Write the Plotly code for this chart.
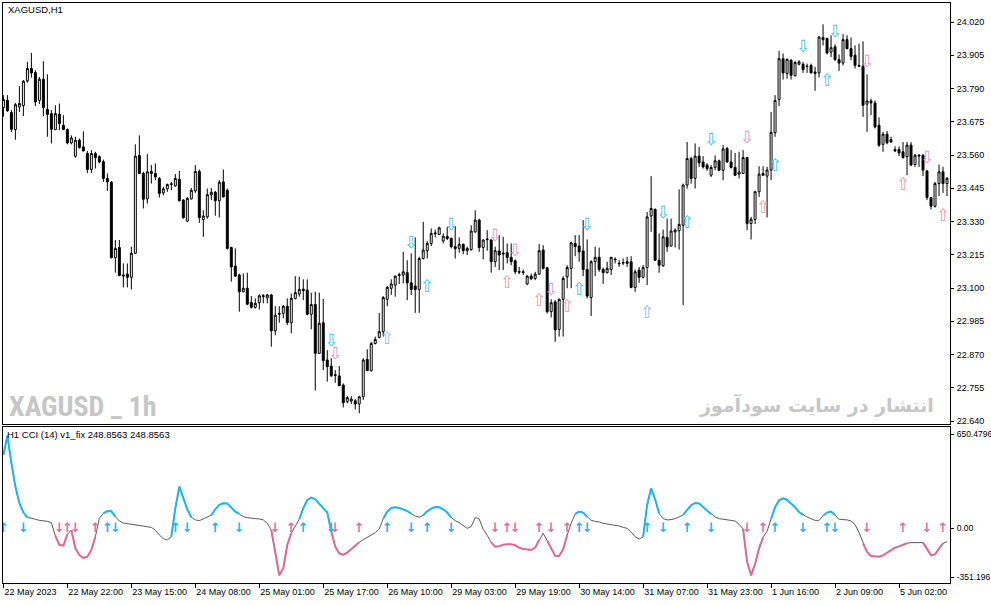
import plotly.graph_objects as go
from plotly.subplots import make_subplots

# XAGUSD H1 candles (one entry per bar)
opens = [23.724, 23.749, 23.707, 23.648, 23.726, 23.731, 23.816, 23.859, 23.845, 23.749,
         23.822, 23.718, 23.703, 23.648, 23.701, 23.663, 23.648, 23.602, 23.556, 23.611,
         23.588, 23.565, 23.510, 23.565, 23.554, 23.537, 23.479, 23.466, 23.205, 23.240,
         23.145, 23.148, 23.137, 23.220, 23.559, 23.496, 23.408, 23.503, 23.496, 23.479,
         23.429, 23.443, 23.458, 23.453, 23.476, 23.404, 23.331, 23.408, 23.436, 23.503,
         23.337, 23.346, 23.422, 23.431, 23.402, 23.467, 23.438, 23.240, 23.176, 23.145,
         23.087, 23.099, 23.050, 23.033, 23.049, 23.070, 23.066, 23.076, 22.952, 23.009,
         23.012, 23.037, 22.980, 23.063, 23.079, 23.096, 23.093, 23.009, 23.043, 22.874,
         22.980, 22.851, 22.830, 22.800, 22.796, 22.764, 22.707, 22.709, 22.710, 22.699,
         22.724, 22.853, 22.814, 22.908, 22.929, 22.949, 23.061, 23.099, 23.110, 23.143,
         23.145, 23.153, 23.118, 23.107, 23.095, 23.202, 23.229, 23.254, 23.287, 23.285,
         23.263, 23.279, 23.271, 23.243, 23.237, 23.251, 23.229, 23.233, 23.294, 23.335,
         23.240, 23.267, 23.266, 23.191, 23.228, 23.221, 23.222, 23.206, 23.194, 23.157,
         23.156, 23.114, 23.141, 23.133, 23.148, 23.231, 23.170, 23.018, 23.052, 22.957,
         23.061, 23.139, 23.168, 23.254, 23.245, 23.228, 23.164, 23.067, 23.191, 23.206,
         23.164, 23.153, 23.164, 23.200, 23.186, 23.186, 23.185, 23.191, 23.102, 23.162,
         23.137, 23.171, 23.349, 23.372, 23.196, 23.177, 23.275, 23.245, 23.294, 23.298,
         23.317, 23.456, 23.548, 23.479, 23.556, 23.536, 23.525, 23.490, 23.517, 23.540,
         23.507, 23.582, 23.536, 23.517, 23.494, 23.496, 23.551, 23.323, 23.337, 23.433,
         23.496, 23.487, 23.508, 23.637, 23.752, 23.893, 23.842, 23.888, 23.834, 23.874,
         23.874, 23.868, 23.870, 23.847, 23.844, 23.966, 23.963, 23.916, 23.934, 23.890,
         23.878, 23.959, 23.928, 23.905, 23.870, 23.867, 23.736, 23.747, 23.740, 23.663,
         23.597, 23.632, 23.613, 23.579, 23.579, 23.571, 23.554, 23.594, 23.527, 23.556,
         23.559, 23.505, 23.413, 23.383, 23.461, 23.502, 23.461]
highs = [23.767, 23.767, 23.715, 23.740, 23.798, 23.819, 23.882, 23.913, 23.853, 23.830,
         23.884, 23.839, 23.715, 23.732, 23.738, 23.698, 23.652, 23.628, 23.623, 23.617,
         23.642, 23.574, 23.577, 23.571, 23.559, 23.544, 23.496, 23.470, 23.266, 23.266,
         23.185, 23.185, 23.243, 23.597, 23.628, 23.502, 23.563, 23.525, 23.531, 23.484,
         23.450, 23.461, 23.467, 23.494, 23.505, 23.407, 23.415, 23.446, 23.525, 23.510,
         23.369, 23.444, 23.446, 23.436, 23.473, 23.510, 23.444, 23.243, 23.237, 23.150,
         23.150, 23.153, 23.072, 23.064, 23.078, 23.079, 23.079, 23.079, 23.037, 23.037,
         23.041, 23.064, 23.081, 23.141, 23.139, 23.130, 23.130, 23.084, 23.087, 23.084,
         23.062, 22.885, 22.857, 22.816, 22.830, 22.770, 22.726, 22.726, 22.716, 22.726,
         22.857, 22.888, 22.914, 22.932, 23.014, 23.072, 23.107, 23.130, 23.143, 23.153,
         23.225, 23.196, 23.220, 23.275, 23.208, 23.329, 23.263, 23.306, 23.302, 23.312,
         23.289, 23.312, 23.275, 23.314, 23.275, 23.254, 23.243, 23.317, 23.369, 23.340,
         23.268, 23.300, 23.268, 23.243, 23.283, 23.277, 23.254, 23.254, 23.199, 23.173,
         23.164, 23.145, 23.150, 23.156, 23.252, 23.248, 23.173, 23.061, 23.058, 23.064,
         23.141, 23.179, 23.260, 23.283, 23.283, 23.335, 23.268, 23.196, 23.243, 23.240,
         23.171, 23.191, 23.208, 23.206, 23.196, 23.202, 23.208, 23.210, 23.164, 23.173,
         23.179, 23.363, 23.487, 23.375, 23.289, 23.302, 23.340, 23.340, 23.306, 23.441,
         23.461, 23.605, 23.554, 23.600, 23.588, 23.556, 23.531, 23.525, 23.559, 23.544,
         23.594, 23.588, 23.577, 23.567, 23.571, 23.577, 23.554, 23.346, 23.436, 23.521,
         23.521, 23.519, 23.709, 23.767, 23.920, 23.911, 23.893, 23.891, 23.885, 23.888,
         23.882, 23.876, 23.876, 23.865, 23.971, 24.012, 23.966, 23.974, 23.943, 23.908,
         23.978, 23.974, 23.966, 23.939, 23.945, 23.953, 23.839, 23.755, 23.749, 23.690,
         23.640, 23.643, 23.623, 23.590, 23.590, 23.605, 23.605, 23.605, 23.563, 23.563,
         23.563, 23.508, 23.415, 23.467, 23.527, 23.519, 23.484]
lows = [23.692, 23.709, 23.640, 23.613, 23.709, 23.695, 23.810, 23.828, 23.729, 23.736,
        23.694, 23.623, 23.600, 23.646, 23.646, 23.646, 23.597, 23.597, 23.551, 23.582,
        23.572, 23.498, 23.498, 23.513, 23.531, 23.467, 23.436, 23.202, 23.153, 23.141,
        23.102, 23.102, 23.095, 23.217, 23.494, 23.375, 23.392, 23.461, 23.473, 23.413,
        23.421, 23.433, 23.438, 23.450, 23.399, 23.340, 23.329, 23.406, 23.429, 23.325,
        23.277, 23.340, 23.404, 23.350, 23.344, 23.413, 23.233, 23.122, 23.139, 23.018,
        23.085, 23.041, 23.029, 23.029, 23.026, 23.047, 23.047, 22.897, 22.937, 22.980,
        22.995, 22.972, 22.943, 23.061, 23.070, 23.058, 23.006, 22.957, 22.745, 22.872,
        22.816, 22.776, 22.793, 22.772, 22.761, 22.687, 22.701, 22.699, 22.680, 22.667,
        22.713, 22.813, 22.811, 22.905, 22.926, 22.932, 23.037, 23.076, 23.070, 23.114,
        23.116, 23.058, 23.076, 23.014, 23.014, 23.199, 23.202, 23.245, 23.275, 23.283,
        23.254, 23.266, 23.237, 23.202, 23.222, 23.217, 23.214, 23.229, 23.291, 23.225,
        23.199, 23.229, 23.153, 23.173, 23.162, 23.162, 23.185, 23.179, 23.148, 23.148,
        23.145, 23.110, 23.127, 23.127, 23.145, 23.164, 23.012, 22.998, 22.914, 22.932,
        22.932, 23.099, 23.099, 23.210, 23.191, 23.141, 23.064, 23.003, 23.141, 23.156,
        23.114, 23.150, 23.145, 23.185, 23.173, 23.179, 23.173, 23.099, 23.087, 23.118,
        23.133, 23.110, 23.294, 23.194, 23.153, 23.173, 23.225, 23.243, 23.240, 23.233,
        23.041, 23.444, 23.461, 23.444, 23.519, 23.513, 23.505, 23.484, 23.507, 23.505,
        23.473, 23.533, 23.513, 23.487, 23.479, 23.494, 23.300, 23.268, 23.321, 23.415,
        23.487, 23.344, 23.473, 23.623, 23.729, 23.821, 23.824, 23.821, 23.832, 23.870,
        23.844, 23.844, 23.842, 23.782, 23.828, 23.939, 23.908, 23.899, 23.885, 23.851,
        23.870, 23.925, 23.888, 23.859, 23.865, 23.692, 23.640, 23.698, 23.652, 23.588,
        23.571, 23.597, 23.602, 23.570, 23.556, 23.548, 23.490, 23.522, 23.519, 23.519,
        23.487, 23.404, 23.372, 23.378, 23.418, 23.429, 23.418]
closes = [23.752, 23.713, 23.649, 23.734, 23.738, 23.815, 23.859, 23.844, 23.744, 23.822,
          23.724, 23.700, 23.649, 23.703, 23.669, 23.648, 23.602, 23.619, 23.611, 23.586,
          23.574, 23.510, 23.565, 23.551, 23.536, 23.479, 23.467, 23.205, 23.237, 23.143,
          23.142, 23.137, 23.220, 23.556, 23.496, 23.407, 23.502, 23.496, 23.484, 23.427,
          23.443, 23.458, 23.460, 23.479, 23.402, 23.343, 23.410, 23.438, 23.503, 23.344,
          23.349, 23.423, 23.431, 23.402, 23.466, 23.415, 23.237, 23.173, 23.141, 23.087,
          23.099, 23.044, 23.033, 23.047, 23.073, 23.073, 23.076, 22.952, 23.006, 23.012,
          23.037, 22.980, 23.064, 23.084, 23.095, 23.091, 23.009, 23.043, 22.874, 22.978,
          22.849, 22.828, 22.796, 22.798, 22.762, 22.703, 22.721, 22.716, 22.699, 22.724,
          22.851, 22.814, 22.908, 22.922, 22.949, 23.067, 23.102, 23.114, 23.141, 23.146,
          23.156, 23.118, 23.095, 23.095, 23.202, 23.231, 23.254, 23.289, 23.290, 23.308,
          23.279, 23.271, 23.243, 23.236, 23.251, 23.229, 23.237, 23.297, 23.335, 23.240,
          23.266, 23.269, 23.191, 23.229, 23.214, 23.218, 23.206, 23.191, 23.156, 23.155,
          23.154, 23.141, 23.132, 23.148, 23.229, 23.168, 23.018, 23.049, 22.955, 23.061,
          23.133, 23.171, 23.256, 23.243, 23.225, 23.164, 23.072, 23.191, 23.206, 23.164,
          23.153, 23.168, 23.206, 23.198, 23.184, 23.188, 23.191, 23.102, 23.156, 23.137,
          23.171, 23.346, 23.375, 23.196, 23.179, 23.277, 23.243, 23.297, 23.300, 23.320,
          23.456, 23.548, 23.479, 23.556, 23.533, 23.519, 23.513, 23.517, 23.540, 23.507,
          23.581, 23.536, 23.517, 23.490, 23.501, 23.551, 23.323, 23.338, 23.433, 23.494,
          23.490, 23.508, 23.638, 23.749, 23.893, 23.844, 23.891, 23.836, 23.880, 23.882,
          23.855, 23.866, 23.844, 23.842, 23.968, 23.959, 23.913, 23.931, 23.890, 23.878,
          23.959, 23.928, 23.901, 23.870, 23.867, 23.732, 23.747, 23.740, 23.657, 23.594,
          23.632, 23.602, 23.605, 23.574, 23.567, 23.551, 23.594, 23.525, 23.559, 23.559,
          23.508, 23.413, 23.383, 23.461, 23.502, 23.461, 23.479]

# CCI(14) line, one value per bar
cci = [471, 594, 418, 268, 161, 101, 71, 62, 58, 51,
       49, 45, 36, -49, -107, -111, -39, -11, -129, -171,
       -191, -182, -139, -54, 64, 96, 111, 109, 75, 47,
       34, 30, 28, 26, 21, 15, 11, 6, -11, -43,
       -66, -75, -54, 129, 268, 199, 122, 71, 54, 49,
       62, 71, 84, 122, 150, 161, 159, 135, 107, 92,
       75, 69, 64, 62, 60, 54, 32, -11, -150, -302,
       -257, -107, -32, 15, 58, 129, 182, 197, 186, 156,
       126, 101, -21, -118, -161, -171, -156, -133, -114, -90,
       -73, -58, -43, -28, -4, 62, 107, 131, 135, 131,
       122, 111, 94, 79, 71, 84, 109, 126, 137, 135,
       122, 101, 69, 49, 36, 19, 0, 11, 69, 60,
       -6, -45, -90, -118, -116, -105, -102, -103, -109, -124,
       -133, -137, -139, -124, -75, -32, -79, -133, -176, -178,
       -135, -45, 32, 92, 107, 101, 73, 51, 45, 41,
       32, 28, 24, 19, 15, 6, 0, -24, -54, -69,
       -54, 150, 257, 186, 96, 62, 54, 56, 62, 73,
       86, 118, 148, 163, 159, 137, 116, 90, 73, 62,
       58, 54, 51, 47, 26, -4, -214, -302, -229, -129,
       -58, -19, 60, 135, 180, 193, 182, 159, 135, 105,
       86, 73, 62, 51, 51, 81, 101, 107, 86, 58,
       56, 54, 47, 24, -28, -96, -152, -178, -182, -182,
       -174, -156, -139, -124, -116, -105, -96, -92, -92, -92,
       -92, -129, -174, -167, -129, -96, -86]

# signal arrows on the price chart
sig_bar = [82, 83, 96, 102, 106, 112, 123, 126, 128, 134, 137, 141, 144, 146,
           161, 165, 171, 177, 186, 190, 193, 200, 206, 208, 216, 225, 231, 235]
sig_dir = [-1, -1, 1, -1, 1, -1, -1, 1, -1, 1, -1, 1, 1, -1,
           1, -1, 1, -1, -1, 1, 1, -1, 1, -1, -1, 1, -1, 1]
sig_kind = ["blue", "pink", "lav", "blue", "blue", "blue", "pink", "salmon", "pink", "salmon",
            "pink", "salmon", "blue", "blue", "lav", "blue", "blue", "blue", "pink", "salmon",
            "blue", "blue", "blue", "blue", "pink", "salmon", "pink", "salmon"]
sig_level = [22.913, 22.870, 22.920, 23.252, 23.101, 23.316, 23.276, 23.114, 23.224, 23.051,
             23.091, 23.031, 23.091, 23.314, 23.010, 23.357, 23.323, 23.609, 23.616, 23.373,
             23.518, 23.931, 23.812, 23.984, 23.879, 23.454, 23.547, 23.345]

# arrows in the CCI window (on the zero line)
cci_sig_bar = [0, 5, 14, 16, 18, 23, 26, 28, 43, 46, 53, 59, 68, 72, 75, 82, 83, 89, 96, 102,
               106, 112, 123, 126, 128, 134, 137, 141, 144, 146, 161, 165, 171, 177, 186, 190,
               193, 200, 206, 208, 216, 225, 231, 235]
cci_sig_dir = [1, -1, -1, 1, -1, 1, 1, -1, 1, -1, 1, -1, -1, 1, 1, -1, -1, 1, 1, -1,
               1, -1, -1, 1, -1, 1, -1, 1, 1, -1, 1, -1, 1, -1, -1, 1,
               1, -1, 1, -1, -1, 1, -1, 1]
cci_sig_side = ["hi", "hi", "lo", "lo", "lo", "lo", "hi", "hi", "hi", "hi", "hi", "hi", "lo", "lo",
                "hi", "hi", "lo", "lo", "hi", "hi", "hi", "hi", "lo", "lo", "lo", "lo", "lo", "lo",
                "hi", "hi", "hi", "hi", "hi", "hi", "lo", "lo", "hi", "hi", "hi", "hi", "lo", "lo",
                "lo", "lo"]

price_ticks = [24.020, 23.905, 23.790, 23.675, 23.560, 23.445, 23.330, 23.215,
               23.100, 22.985, 22.870, 22.755, 22.640]
cci_label_at = [605, 0, -315]
cci_labels = ["650.4796", "0.00", "-351.196"]
time_tick_bars = [0, 16, 32, 48, 64, 80, 96, 112, 128, 144, 160, 176, 192, 208, 224]
time_labels = ["22 May 2023", "22 May 22:00", "23 May 15:00", "24 May 08:00", "25 May 01:00",
               "25 May 17:00", "26 May 10:00", "29 May 03:00", "29 May 19:00", "30 May 14:00",
               "31 May 07:00", "31 May 23:00", "1 Jun 16:00", "2 Jun 09:00", "5 Jun 02:00"]

SIG_COLORS = {"blue": "#3ec4f4", "pink": "#e596c4", "salmon": "#ee9c9f", "lav": "#a4b2e6"}
CCI_ARROW = {"hi": "#22b4ee", "lo": "#e07098"}
LEVEL = 100
SMALL = dict(family="Liberation Sans", size=9.5, color="black")
AXIS_FONT = dict(family="Liberation Sans", size=9, color="black")

W, H = 991, 605
L, R, T, B = 3, 41, 3, 22


def px(x):
    # pixel -> paper x
    return (x - L) / (W - L - R)


def py(y):
    # pixel -> paper y
    return (H - B - y) / (H - T - B)


def colored_runs(vals, test):
    '''segments where either end passes the test, gaps as None'''
    xs, ys = [], []
    for i in range(len(vals) - 1):
        if test(vals[i]) or test(vals[i + 1]):
            if not xs or xs[-1] != i:
                if xs:
                    xs.append(None)
                    ys.append(None)
                xs.append(i)
                ys.append(vals[i])
            xs.append(i + 1)
            ys.append(vals[i + 1])
    return xs, ys


bars = list(range(len(closes)))

fig = make_subplots(rows=2, cols=1, shared_xaxes=True)

fig.add_trace(go.Candlestick(
    x=bars, open=opens, high=highs, low=lows, close=closes,
    increasing=dict(line=dict(color="black", width=1), fillcolor="white"),
    decreasing=dict(line=dict(color="black", width=1), fillcolor="black"),
    whiskerwidth=0, hoverinfo="skip", showlegend=False
), row=1, col=1)

fig.add_trace(go.Scatter(
    x=sig_bar, y=sig_level, mode="text",
    text=["⇧" if d > 0 else "⇩" for d in sig_dir],
    textfont=dict(family="DejaVu Sans", size=17, color=[SIG_COLORS[k] for k in sig_kind]),
    hoverinfo="skip", showlegend=False
), row=1, col=1)

fig.add_trace(go.Scatter(
    x=bars, y=cci, mode="lines", line=dict(color="#5a5a5a", width=1),
    hoverinfo="skip", showlegend=False
), row=2, col=1)

hx, hy = colored_runs(cci, lambda v: v > LEVEL)
fig.add_trace(go.Scatter(
    x=hx, y=hy, mode="lines", line=dict(color="#1eb4f0", width=2),
    connectgaps=False, hoverinfo="skip", showlegend=False
), row=2, col=1)

lx, ly = colored_runs(cci, lambda v: v < -LEVEL)
fig.add_trace(go.Scatter(
    x=lx, y=ly, mode="lines", line=dict(color="#dc6a94", width=2),
    connectgaps=False, hoverinfo="skip", showlegend=False
), row=2, col=1)

fig.add_trace(go.Scatter(
    x=cci_sig_bar, y=[0] * len(cci_sig_bar), mode="text",
    text=["↑" if d > 0 else "↓" for d in cci_sig_dir],
    textfont=dict(family="DejaVu Sans", size=13, weight="bold",
                  color=[CCI_ARROW[s] for s in cci_sig_side]),
    hoverinfo="skip", showlegend=False
), row=2, col=1)

frame = dict(showgrid=False, zeroline=False, showline=True, mirror=True,
             linecolor="black", linewidth=1, automargin=False)

fig.update_layout(
    width=W, height=H, margin=dict(l=L, r=R, t=T, b=B),
    paper_bgcolor="white", plot_bgcolor="white", showlegend=False, hovermode=False,
    font=SMALL,
    xaxis=dict(domain=[0, 1], range=[-0.1, 236.75], rangeslider=dict(visible=False),
               showticklabels=False, ticks="", **frame),
    xaxis2=dict(domain=[0, 1], range=[-0.1, 236.75], tickvals=time_tick_bars,
                ticktext=time_labels, ticks="outside", ticklen=4, tickcolor="black",
                tickangle=0, ticklabelposition="outside right", tickfont=AXIS_FONT, **frame),
    yaxis=dict(domain=[py(424.3), 1], range=[22.6286, 24.0857], side="right",
               tickvals=price_ticks, ticktext=[f"{v:.3f}" for v in price_ticks],
               ticks="outside", ticklen=3, tickcolor="black", ticklabelstandoff=1,
               tickfont=AXIS_FONT, **frame),
    yaxis2=dict(domain=[0, py(427)], range=[-351.196, 650.4796], side="right",
                tickvals=cci_label_at, ticktext=cci_labels,
                ticks="outside", ticklen=3, tickcolor="black", ticklabelstandoff=1,
                tickfont=dict(AXIS_FONT, size=8.5), **frame),
)

fig.add_annotation(x=px(6), y=py(10), xref="paper", yref="paper", text="XAGUSD,H1",
                   showarrow=False, xanchor="left", yanchor="middle", font=SMALL)
fig.add_annotation(x=px(5), y=py(435), xref="paper", yref="paper",
                   text="H1 CCI (14) v1_fix 248.8563 248.8563",
                   showarrow=False, xanchor="left", yanchor="middle", font=SMALL)
fig.add_annotation(x=px(7), y=py(406), xref="paper", yref="paper", text="<b>XAGUSD _ 1h</b>",
                   showarrow=False, xanchor="left", yanchor="middle",
                   font=dict(family="Liberation Sans Narrow, Roboto Condensed, DejaVu Sans Condensed, Liberation Sans",
                             size=28, color="#c6c6c6"))
fig.add_annotation(x=px(936), y=py(405), xref="paper", yref="paper",
                   text="<b>انتشار در سایت سودآموز</b>",
                   showarrow=False, xanchor="right", yanchor="middle",
                   font=dict(family="DejaVu Sans", size=19, color="#c6c6c6"))

# the page body has a default 8px margin; drop it so the figure sits at the corner
fig.write_html("out.html", config={"displayModeBar": False},
               post_script="document.body.style.margin='0';")
